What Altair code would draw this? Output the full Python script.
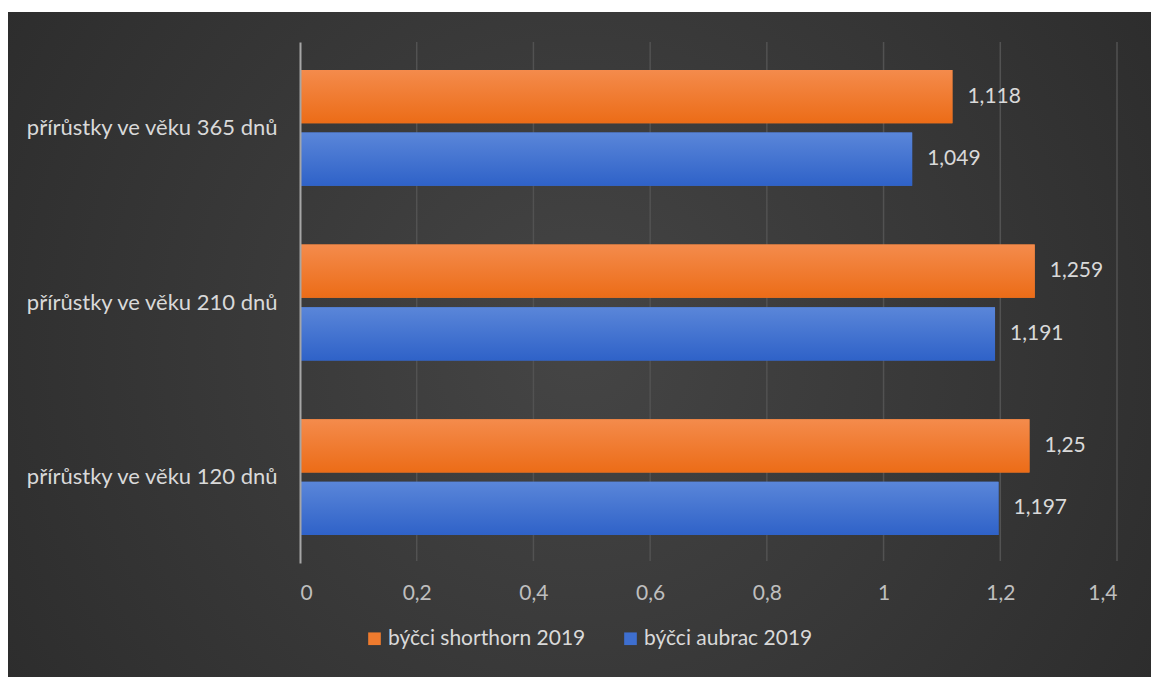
import altair as alt
import pandas as pd

categories = ["přírůstky ve věku 365 dnů", "přírůstky ve věku 210 dnů", "přírůstky ve věku 120 dnů"]
series = ["býčci shorthorn 2019", "býčci aubrac 2019"]
shorthorn = [1.118, 1.259, 1.25]
aubrac = [1.049, 1.191, 1.197]
colors = ["#EF7B2E", "#3E6FD0"]
grad_top = ["#F48B4C", "#5A86D9"]
grad_bottom = ["#EC6C17", "#2F62C8"]
x_ticks = [0, 0.2, 0.4, 0.6, 0.8, 1.0, 1.2, 1.4]

rows = []
for c, s_val, a_val in zip(categories, shorthorn, aubrac):
    rows.append({"kat": c, "serie": series[0], "v": s_val})
    rows.append({"kat": c, "serie": series[1], "v": a_val})
df = pd.DataFrame(rows)
grid_df = pd.DataFrame({"t": x_ticks[1:]})

FONT = "Lato"
TXT = "#d9d9d9"

bg = alt.Chart(alt.Data(values=[{}])).mark_rect(
    fill={"gradient": "radial", "x1": 0.5, "y1": 0.5, "x2": 0.5, "y2": 0.5,
          "r1": 0, "r2": 0.75,
          "stops": [{"offset": 0, "color": "#454545"}, {"offset": 1, "color": "#262626"}]}
).encode(x=alt.value(-292), x2=alt.value(851), y=alt.value(-30), y2=alt.value(635))

x_scale = alt.Scale(domain=[0, 1.4], nice=False)

grid = alt.Chart(grid_df).mark_rule(color="#525252", strokeWidth=1.5).encode(
    x=alt.X("t:Q", scale=x_scale), y=alt.value(0), y2=alt.value(519)
)

base = alt.Chart(df)

x_enc = alt.X("v:Q", scale=x_scale,
              axis=alt.Axis(values=x_ticks, title=None, grid=False,
                            domain=False, ticks=False, zindex=1,
                            labelColor="#bfbfbf", labelFont=FONT, labelFontSize=21,
                            labelPadding=19,
                            labelExpr="replace(format(datum.value, '~g'), '.', ',')"))
y_enc = alt.Y("kat:N", sort=categories,
              scale=alt.Scale(paddingInner=0.337, paddingOuter=0.16),
              axis=alt.Axis(title=None, domain=True, domainColor="#a6a6a6", domainWidth=2,
                            ticks=False, labelColor=TXT, labelFont=FONT, labelFontSize=22,
                            labelPadding=23, zindex=1, labelLimit=400))
yoff = alt.YOffset("serie:N", sort=series, scale=alt.Scale(paddingInner=0.15, paddingOuter=0))

bars = base.mark_bar().encode(
    x=x_enc, y=y_enc, yOffset=yoff,
    color=alt.Color("serie:N", sort=series,
                    scale=alt.Scale(domain=series, range=colors),
                    legend=alt.Legend(title=None, orient="none", direction="horizontal",
                                      legendX=64, legendY=586, symbolType="square",
                                      symbolSize=160, symbolStrokeWidth=0,
                                      labelColor=TXT, labelFont=FONT, labelFontSize=21,
                                      columnPadding=34, labelOffset=3, labelLimit=400))
)

grad_layers = []
for s, top, bot in zip(series, grad_top, grad_bottom):
    grad_layers.append(
        base.transform_filter(alt.datum.serie == s).mark_bar(
            fill={"gradient": "linear", "x1": 0, "y1": 0, "x2": 0, "y2": 1,
                  "stops": [{"offset": 0, "color": top}, {"offset": 1, "color": bot}]}
        ).encode(x="v:Q", y=alt.Y("kat:N", sort=categories),
                 yOffset=alt.YOffset("serie:N", sort=series))
    )

labels = base.transform_calculate(
    lab="replace(toString(datum.v), '.', ',')"
).mark_text(align="left", baseline="middle", dx=15, color=TXT, font=FONT, fontSize=21).encode(
    x="v:Q", y=alt.Y("kat:N", sort=categories), yOffset=alt.YOffset("serie:N", sort=series), text="lab:N"
)

chart = alt.layer(bg, grid, bars, *grad_layers, labels).properties(
    width=817, height=521,
    autosize=alt.AutoSizeParams(type="none"),
    padding={"left": 300, "top": 42, "right": 34, "bottom": 114},
    background="white",
).configure_view(stroke=None)

chart.save("out.html", embed_options={"renderer": "svg", "actions": False})
